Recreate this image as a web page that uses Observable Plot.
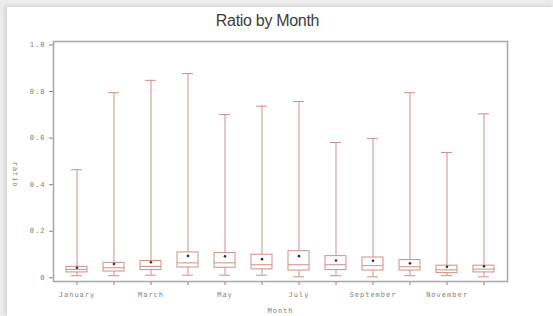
<!DOCTYPE html>
<html>
<head>
<meta charset="utf-8">
<script src="https://cdn.jsdelivr.net/npm/d3@7"></script>
<script src="https://cdn.jsdelivr.net/npm/@observablehq/plot@0.6"></script>
<style>
  html, body { margin: 0; padding: 0; }
  body { background: #e9e9e9; }
  #wrap { position: relative; width: 553px; height: 316px; overflow: hidden; background: #ececec; }
  #panel { position: absolute; left: 7px; top: 7px; right: 0; bottom: 0; background: #fff; box-shadow: -2px -1px 4px rgba(0,0,0,0.12); }
  #title { position: absolute; left: 0; width: 535px; top: 12px; text-align: center;
           font-family: "Liberation Sans", Arial, sans-serif; font-size: 16px; color: #3c3c3c; letter-spacing: -0.3px; }
  #chart { position: absolute; left: 0; top: 0; }
</style>
</head>
<body>
<div id="wrap">
  <div id="panel"></div>
  <div id="title">Ratio by Month</div>
  <div id="chart"></div>
</div>
<script>
const months = ["January","February","March","April","May","June","July","August","September","October","November","December"];
const minVals    = [0.009, 0.009, 0.011, 0.011, 0.011, 0.011, 0.004, 0.009, 0.004, 0.009, 0.009, 0.004];
const q1Vals     = [0.023, 0.027, 0.033, 0.044, 0.043, 0.036, 0.031, 0.033, 0.031, 0.031, 0.020, 0.023];
const medianVals = [0.036, 0.043, 0.049, 0.064, 0.064, 0.056, 0.056, 0.056, 0.052, 0.047, 0.034, 0.037];
const q3Vals     = [0.047, 0.064, 0.072, 0.109, 0.106, 0.099, 0.114, 0.093, 0.087, 0.076, 0.052, 0.052];
const maxVals    = [0.464, 0.795, 0.848, 0.877, 0.701, 0.737, 0.757, 0.581, 0.598, 0.795, 0.538, 0.704];
const meanVals   = [0.043, 0.059, 0.067, 0.094, 0.092, 0.080, 0.093, 0.074, 0.073, 0.062, 0.047, 0.049];
const yTicks = [0, 0.2, 0.4, 0.6, 0.8, 1.0];
const xLabel = "Month";
const yLabel = "ratio";

const table = months.map((m, i) => ({
  month: m, min: minVals[i], q1: q1Vals[i], median: medianVals[i],
  q3: q3Vals[i], max: maxVals[i], mean: meanVals[i]
}));

const red = "#d18d86";

const chart = Plot.plot({
  width: 553,
  height: 316,
  marginLeft: 53,
  marginRight: 46,
  marginTop: 41,
  marginBottom: 35,
  style: {
    background: "transparent",
    fontFamily: "'DejaVu Sans Mono', monospace",
    fontSize: "7px",
    letterSpacing: "1px",
    color: "#808080"
  },
  x: {
    type: "band",
    domain: months,
    padding: 0,
    tickSize: 4,
    tickPadding: 7,
    tickFormat: (d, i) => (months.indexOf(d) % 2 === 0 ? d : ""),
    label: xLabel,
    labelAnchor: "center",
    labelOffset: 31
  },
  y: {
    domain: [-0.016, 1.015],
    ticks: yTicks,
    tickSize: 4,
    tickPadding: 4,
    tickFormat: d => (d === 0 ? "0" : d.toFixed(1)),
    label: null
  },
  marks: [
    Plot.ruleX(table, {x: "month", y1: "min", y2: "max", stroke: red, strokeWidth: 1}),
    Plot.tickY(table, {x: "month", y: "max", stroke: red, strokeWidth: 1, insetLeft: 13, insetRight: 13}),
    Plot.tickY(table, {x: "month", y: "min", stroke: red, strokeWidth: 1, insetLeft: 13, insetRight: 13}),
    Plot.barY(table, {x: "month", y1: "q1", y2: "q3", fill: "white", stroke: red, strokeWidth: 1, insetLeft: 8, insetRight: 8}),
    Plot.tickY(table, {x: "month", y: "median", stroke: red, strokeWidth: 1, insetLeft: 8, insetRight: 8}),
    Plot.dot(table, {x: "month", y: "mean", r: 1.3, fill: "#333", stroke: "none"}),
    Plot.text([yLabel], {text: d => d, frameAnchor: "left", dx: -38, rotate: 90, fill: "#808080"}),
    Plot.frame({stroke: "#a8a8a8", strokeWidth: 1.5})
  ]
});
document.getElementById("chart").appendChild(chart);
</script>
</body>
</html>
